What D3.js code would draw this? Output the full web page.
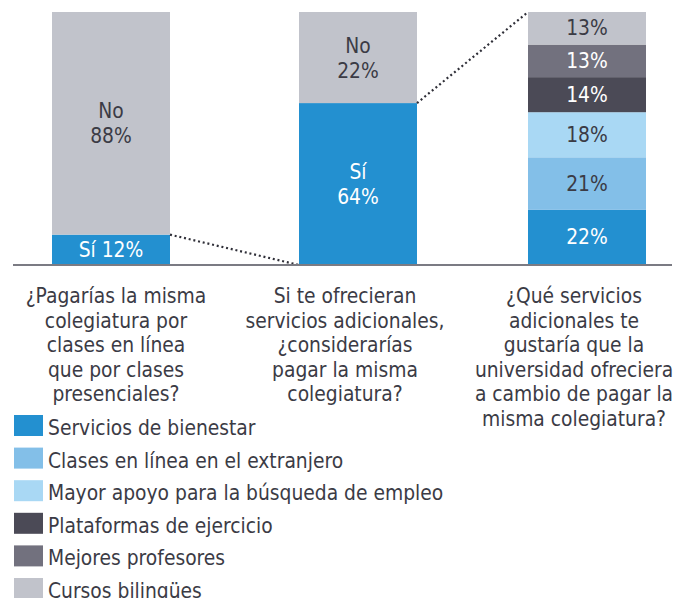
<!DOCTYPE html>
<html>
<head>
<meta charset="utf-8">
<title>Colegiatura</title>
<script src="https://cdn.jsdelivr.net/npm/d3@7"></script>
<style>
  body { margin: 0; background: #fff; }
  text { font-family: "DejaVu Sans Condensed", "DejaVu Sans", sans-serif; }
</style>
</head>
<body>
<div id="chart"></div>
<script>
// data
var questions = ["q1", "q2", "q3"];
var questionLabels = [
  ["¿Pagarías la misma", "colegiatura por", "clases en línea", "que por clases", "presenciales?"],
  ["Si te ofrecieran", "servicios adicionales,", "¿considerarías", "pagar la misma", "colegiatura?"],
  ["¿Qué servicios", "adicionales te", "gustaría que la", "universidad ofreciera", "a cambio de pagar la", "misma colegiatura?"]
];
var q1Keys = ["Sí", "No"];
var q1Values = [12, 88];
var q2Keys = ["Sí", "No"];
var q2Values = [64, 22];
var services = ["Servicios de bienestar", "Clases en línea en el extranjero",
  "Mayor apoyo para la búsqueda de empleo", "Plataformas de ejercicio",
  "Mejores profesores", "Cursos bilingües"];
var serviceValues = [22, 21, 18, 14, 13, 13];

var width = 686, height = 598;
var svg = d3.select("#chart").append("svg")
  .attr("width", width).attr("height", height);

var fillCol = { "Sí": "#2390d0", "No": "#c1c3cb" };
var serviceCol = d3.scaleOrdinal().domain(services)
  .range(["#2390d0", "#83bfe8", "#a9d8f4", "#4b4a56", "#72717e", "#c1c3cb"]);
var lightText = { "#2390d0": "#fff", "#4b4a56": "#fff", "#72717e": "#fff" };
var darkText = "#3b3b45";
var fs = 20.8;

var x = d3.scaleOrdinal().domain(questions).range([52, 299, 528]);
var labelX = d3.scaleOrdinal().domain(questions).range([116, 345, 574]);
var barW = 118;
var yBase = 265, yTop = 12;

function stack(keys, vals, colorFn) {
  var acc = 0;
  return keys.map(function (k, i) {
    var s = { key: k, value: vals[i], y0: acc, y1: acc + vals[i], color: colorFn(k) };
    acc += vals[i];
    return s;
  });
}

var bars = [
  { q: "q1", segs: stack(q1Keys, q1Values, function (k) { return fillCol[k]; }), twoLine: { "No": true } },
  { q: "q2", segs: stack(q2Keys, q2Values, function (k) { return fillCol[k]; }), twoLine: { "Sí": true, "No": true } },
  { q: "q3", segs: stack(services, serviceValues, serviceCol), twoLine: {}, noKey: true }
];

bars.forEach(function (b) {
  var total = d3.sum(b.segs, function (d) { return d.value; });
  var y = d3.scaleLinear().domain([0, Math.max(100, total)]).range([yBase, yTop]);
  b.y = y;
  // top segment fills up to the top of the column
  b.segs[b.segs.length - 1].y1 = y.domain()[1];
  var g = svg.append("g");
  g.selectAll("rect").data(b.segs).enter().append("rect")
    .attr("x", x(b.q))
    .attr("width", barW)
    .attr("y", function (d) { return y(d.y1); })
    .attr("height", function (d) { return y(d.y0) - y(d.y1); })
    .attr("fill", function (d) { return d.color; });

  b.segs.forEach(function (d) {
    var cy = (y(d.y0) + y(d.y1)) / 2;
    var cx = x(b.q) + barW / 2;
    var t = g.append("text")
      .attr("x", cx)
      .attr("text-anchor", "middle")
      .attr("font-size", fs)
      .attr("fill", lightText[d.color] || darkText);
    if (b.noKey) {
      t.attr("y", cy + 7).text(d.value + "%");
    } else if (b.twoLine[d.key]) {
      t.append("tspan").attr("x", cx).attr("y", cy - 5).text(d.key);
      t.append("tspan").attr("x", cx).attr("y", cy + 20).text(d.value + "%");
    } else {
      t.attr("y", cy + 7).text(d.key + " " + d.value + "%");
    }
  });
});

// dotted connectors
var b1 = bars[0], b2 = bars[1], b3 = bars[2];
var links = [
  [[x("q1") + barW, b1.y(b1.segs[0].y1)], [x("q2"), b2.y(0)]],
  [[x("q2") + barW, b2.y(b2.segs[0].y1)], [x("q3"), b3.y(b3.y.domain()[1])]]
];
svg.selectAll(".link").data(links).enter().append("path")
  .attr("class", "link")
  .attr("d", d3.line())
  .attr("fill", "none")
  .attr("stroke", "#2f2f38")
  .attr("stroke-width", 2.2)
  .attr("stroke-dasharray", "2 2.8");

// baseline
svg.append("line")
  .attr("x1", 13).attr("x2", 672)
  .attr("y1", yBase).attr("y2", yBase)
  .attr("stroke", "#7b7b83").attr("stroke-width", 2);

// category labels
questions.forEach(function (q, i) {
  var t = svg.append("text")
    .attr("text-anchor", "middle")
    .attr("font-size", fs)
    .attr("fill", darkText);
  questionLabels[i].forEach(function (line, j) {
    t.append("tspan").attr("x", labelX(q)).attr("y", 303 + j * 24.5).text(line);
  });
});

// legend
var legend = svg.append("g").attr("transform", "translate(14,415)");
var row = legend.selectAll("g").data(services).enter().append("g")
  .attr("transform", function (d, i) { return "translate(0," + (i * 32.6) + ")"; });
row.append("rect").attr("width", 29).attr("height", 21)
  .attr("fill", function (d) { return serviceCol(d); });
row.append("text").attr("x", 34).attr("y", 20)
  .attr("font-size", fs).attr("fill", darkText)
  .text(function (d) { return d; });
</script>
</body>
</html>
